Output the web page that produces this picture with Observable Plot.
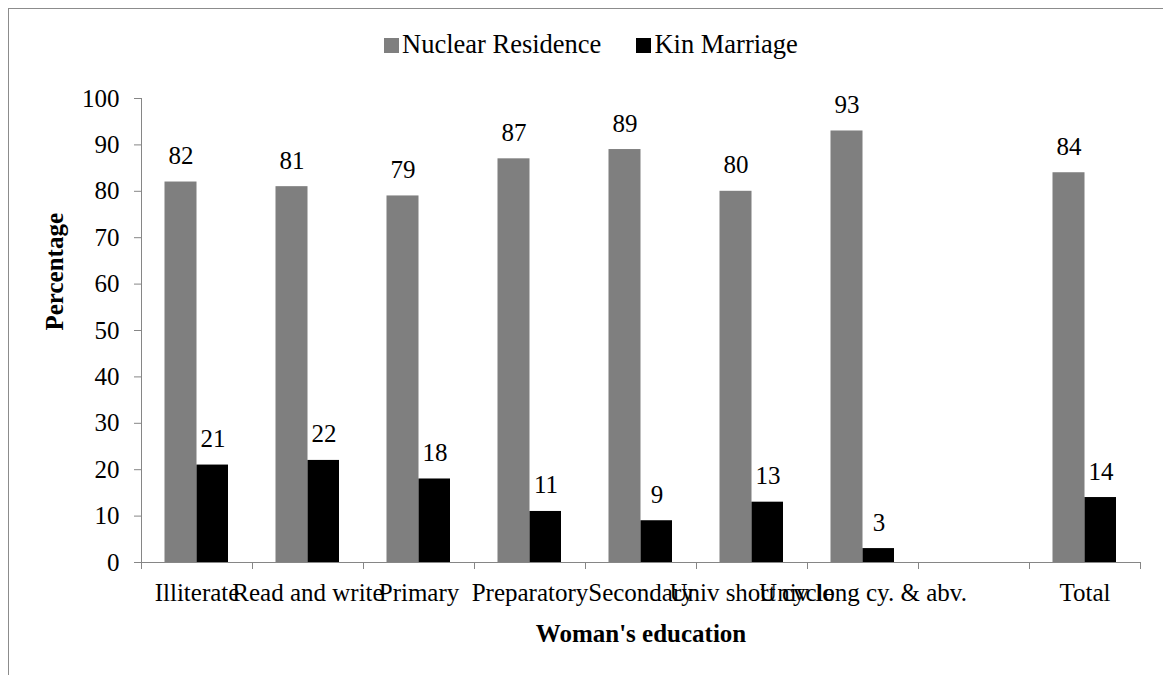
<!DOCTYPE html>
<html>
<head>
<meta charset="utf-8">
<script src="https://cdn.jsdelivr.net/npm/d3@7"></script>
<script src="https://cdn.jsdelivr.net/npm/@observablehq/plot@0.6"></script>
<style>
  html, body { margin: 0; padding: 0; background: white; font-family: "Liberation Serif", serif; }
  #wrap { position: relative; width: 1163px; height: 675px; overflow: hidden; background: white;
          font-family: "Liberation Serif", serif; }
  #border { position: absolute; left: 8px; top: 8px; width: 1200px; height: 720px;
            border: 1px solid #8c8c8c; box-sizing: border-box; pointer-events: none; z-index: 2; }
  #legend { position: absolute; left: 384px; top: 29px; height: 30px; line-height: 30px;
            font-size: 26.5px; white-space: nowrap; color: black; font-family: "Liberation Serif", serif; }
  .sw { display: inline-block; width: 15px; height: 15px; vertical-align: baseline; margin-right: 3px; }
  .item { display: inline-block; }
  #chart { position: absolute; left: 0; top: 70px; }
  #chart svg text { font-family: "Liberation Serif", serif; }
</style>
</head>
<body>
<div id="wrap">
  <div id="border"></div>
  <div id="legend"></div>
  <div id="chart"></div>
</div>
<script>
// ---- data ----
const categories = ["Illiterate", "Read and write", "Primary", "Preparatory", "Secondary",
                    "Univ short cycle", "Univ long cy. & abv.", " ", "Total"];
const nuclearResidence = [82, 81, 79, 87, 89, 80, 93, null, 84];
const kinMarriage = [21, 22, 18, 11, 9, 13, 3, null, 14];
const seriesNames = ["Nuclear Residence", "Kin Marriage"];
const seriesColors = ["#7f7f7f", "#000000"];
const yTicks = [0, 10, 20, 30, 40, 50, 60, 70, 80, 90, 100];
const xTitle = "Woman's education";
const yTitle = "Percentage";

// ---- build table ----
const rows = [];
categories.forEach((c, i) => {
  if (nuclearResidence[i] != null) rows.push({category: c, series: seriesNames[0], value: nuclearResidence[i]});
  if (kinMarriage[i] != null) rows.push({category: c, series: seriesNames[1], value: kinMarriage[i]});
});
const nuc = rows.filter(d => d.series === seriesNames[0]);
const kin = rows.filter(d => d.series === seriesNames[1]);

// ---- legend ----
const legend = document.getElementById("legend");
seriesNames.forEach((s, i) => {
  const it = document.createElement("span");
  it.className = "item";
  if (i > 0) it.style.marginLeft = "35px";
  const sw = document.createElement("span");
  sw.className = "sw";
  sw.style.background = seriesColors[i];
  it.appendChild(sw);
  it.appendChild(document.createTextNode(s));
  legend.appendChild(it);
});

// ---- layout ----
const W = 1163, H = 605, mL = 141, mR = 23, mT = 28, mB = 113;
const half = (W - mL - mR) / categories.length / 2;
const axisGray = "#868686";
const FF = "Liberation Serif";

const plot = Plot.plot({
  width: W, height: H,
  marginLeft: mL, marginRight: mR, marginTop: mT, marginBottom: mB,
  style: {fontFamily: FF, fontSize: "25px", color: "black", background: "transparent", overflow: "visible"},
  x: {domain: categories, padding: 0, axis: null},
  y: {domain: [0, 100], axis: null},
  marks: [
    Plot.barY(nuc, {x: "category", y: "value", fill: seriesColors[0], insetLeft: half - 32, insetRight: half}),
    Plot.barY(kin, {x: "category", y: "value", fill: seriesColors[1], insetLeft: half, insetRight: half - 31.5}),
    Plot.text(nuc, {x: "category", y: "value", text: d => String(d.value), dx: -16, dy: -18, lineAnchor: "bottom", fill: "black", fontFamily: FF}),
    Plot.text(kin, {x: "category", y: "value", text: d => String(d.value), dx: 16, dy: -18, lineAnchor: "bottom", fill: "black", fontFamily: FF}),
    // axis lines
    Plot.ruleY([0], {stroke: axisGray}),
    Plot.ruleX([categories[0]], {dx: -half, stroke: axisGray}),
    // y axis ticks & labels
    Plot.axisY({ticks: yTicks, tickSize: 7, tickPadding: 15, stroke: axisGray, fill: "black", label: null, fontFamily: FF}),
    // x tick labels
    Plot.axisX({ticks: categories, tickSize: 0, tickPadding: 21, fill: "black", label: null, textOverflow: null, fontFamily: FF}),
    // x boundary ticks
    Plot.axisX({ticks: categories, tickSize: 7, dx: -half, tickFormat: () => "", stroke: axisGray, label: null}),
    Plot.axisX({ticks: [categories[categories.length - 1]], tickSize: 7, dx: half, tickFormat: () => "", stroke: axisGray, label: null}),
    // titles
    Plot.text([xTitle], {frameAnchor: "bottom", dy: 79, lineAnchor: "bottom", fontWeight: "bold", fill: "black", fontFamily: FF}),
    Plot.text([yTitle], {frameAnchor: "left", rotate: -90, dx: -87, lineAnchor: "middle", fontWeight: "bold", fill: "black", fontFamily: FF})
  ]
});
document.getElementById("chart").appendChild(plot);
</script>
</body>
</html>
